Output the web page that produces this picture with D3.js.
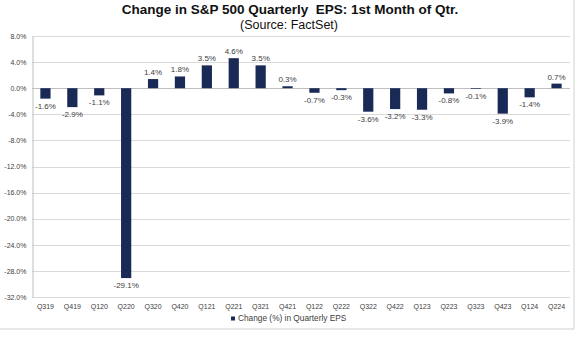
<!DOCTYPE html>
<html lang="en">
<head>
    <meta charset="UTF-8">
    <script src="https://cdn.jsdelivr.net/npm/d3@7"></script>
    <title>Change in S&amp;P 500 Quarterly EPS</title>
    <style>
        body {
            margin: 0;
            background: white;
            font-family: "Liberation Sans", Arial, sans-serif;
        }
    </style>
</head>
<body>
    <div class="fig"></div>

    <script>
        const quarters = ["Q319", "Q419", "Q120", "Q220", "Q320", "Q420", "Q121", "Q221", "Q321", "Q421",
                          "Q122", "Q222", "Q322", "Q422", "Q123", "Q223", "Q323", "Q423", "Q124", "Q224"];
        const epsChange = [-1.6, -2.9, -1.1, -29.1, 1.4, 1.8, 3.5, 4.6, 3.5, 0.3,
                           -0.7, -0.3, -3.6, -3.2, -3.3, -0.8, -0.1, -3.9, -1.4, 0.7];
        const yTicks = [8, 4, 0, -4, -8, -12, -16, -20, -24, -28, -32];

        const width = 584, height = 338;
        const margin = { top: 36, right: 15, bottom: 41, left: 32 };

        const svg = d3.select(".fig").append("svg")
            .attr("width", width)
            .attr("height", height);

        // outer frame (only right and bottom visible)
        svg.append("path")
            .attr("d", `M574,0 V329 H0`)
            .attr("fill", "none")
            .attr("stroke", "#d0d0d0")
            .attr("stroke-width", 1);

        svg.append("text")
            .attr("x", 290).attr("y", 14)
            .attr("text-anchor", "middle")
            .attr("xml:space", "preserve")
            .style("font-size", "13.5px")
            .style("font-weight", "bold")
            .attr("fill", "#111")
            .text("Change in S&P 500 Quarterly  EPS: 1st Month of Qtr.");

        svg.append("text")
            .attr("x", 289).attr("y", 29)
            .attr("text-anchor", "middle")
            .style("font-size", "12.5px")
            .attr("fill", "#111")
            .text("(Source: FactSet)");

        const x = d3.scaleBand()
            .domain(quarters)
            .range([margin.left, width - margin.right + 1])
            .paddingInner(0.62)
            .paddingOuter(0.31);

        const y = d3.scaleLinear()
            .domain([-32, 8])
            .range([height - margin.bottom, margin.top]);

        // gridlines
        svg.append("g")
            .selectAll("line")
            .data(yTicks)
            .enter()
            .append("line")
            .attr("x1", margin.left)
            .attr("x2", width - margin.right + 1)
            .attr("y1", d => Math.round(y(d)) + 0.5)
            .attr("y2", d => Math.round(y(d)) + 0.5)
            .attr("stroke", d => d === 0 ? "#bfbfbf" : "#d9d9d9")
            .attr("stroke-width", 1);

        // y axis
        const yAxis = svg.append("g")
            .attr("transform", `translate(${margin.left + 0.5},0)`)
            .call(d3.axisLeft(y).tickValues(yTicks).tickSize(0).tickPadding(6)
                .tickFormat(d => d.toFixed(1) + "%"));
        yAxis.select(".domain").attr("stroke", "#bfbfbf");
        yAxis.selectAll("text")
            .style("font-size", "7px")
            .style("font-family", "Liberation Sans, Arial, sans-serif")
            .attr("fill", "#404040");

        // x axis labels
        const xAxis = svg.append("g")
            .attr("transform", `translate(0,${height - margin.bottom})`)
            .call(d3.axisBottom(x).tickSize(0).tickPadding(7));
        xAxis.select(".domain").remove();
        xAxis.selectAll("text")
            .style("font-size", "7px")
            .style("font-family", "Liberation Sans, Arial, sans-serif")
            .attr("fill", "#404040");

        // bars
        svg.append("g")
            .selectAll("rect")
            .data(epsChange)
            .enter()
            .append("rect")
            .attr("x", (d, i) => x(quarters[i]))
            .attr("width", x.bandwidth())
            .attr("y", d => y(Math.max(0, d)))
            .attr("height", d => Math.abs(y(d) - y(0)))
            .attr("fill", "#1a2a56");

        // value labels
        svg.append("g")
            .selectAll("text")
            .data(epsChange)
            .enter()
            .append("text")
            .attr("x", (d, i) => x(quarters[i]) + x.bandwidth() / 2)
            .attr("y", d => d >= 0 ? y(d) - 4 : y(d) + 10)
            .attr("text-anchor", "middle")
            .style("font-size", "8px")
            .attr("fill", "#404040")
            .text(d => d.toFixed(1) + "%");

        // legend
        const legend = svg.append("g").attr("transform", "translate(231,321)");
        legend.append("rect")
            .attr("x", 0).attr("y", -4.5)
            .attr("width", 4).attr("height", 4)
            .attr("fill", "#1a2a56");
        legend.append("text")
            .attr("x", 7).attr("y", 0)
            .style("font-size", "8.3px")
            .attr("fill", "#404040")
            .text("Change (%) in Quarterly EPS");
    </script>
</body>
</html>
